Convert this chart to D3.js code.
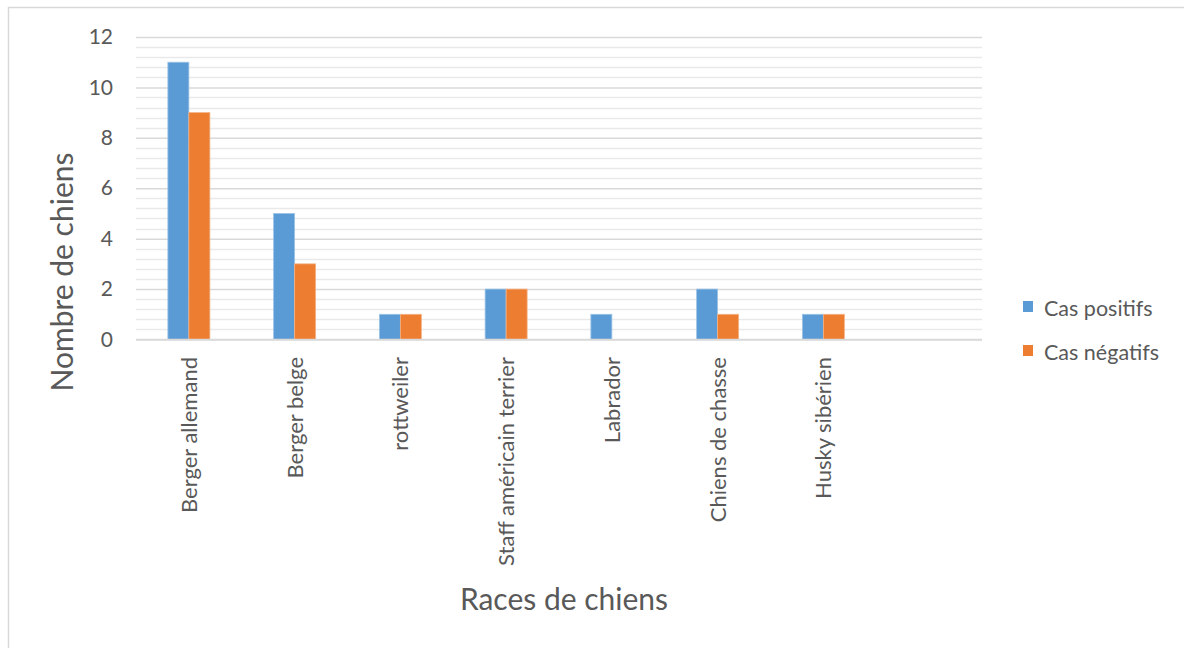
<!DOCTYPE html>
<html>
<head>
<meta charset="utf-8">
<script src="https://cdn.jsdelivr.net/npm/d3@7"></script>
<style>
  html, body { margin: 0; padding: 0; background: #fff; }
  svg { display: block; }
  text { font-family: Lato, "Open Sans", sans-serif; fill: #595959; }
</style>
</head>
<body>
<svg id="chart" width="1184" height="648"></svg>
<script>
// Races de chiens et nombre de cas
const categories = ["Berger allemand", "Berger belge", "rottweiler", "Staff américain terrier", "Labrador", "Chiens de chasse", "Husky sibérien", ""];
const positifs = [11, 5, 1, 2, 1, 2, 1, null];
const negatifs = [9, 3, 1, 2, 0, 1, 1, null];
const seriesNames = ["Cas positifs", "Cas négatifs"];
const seriesColors = ["#5B9BD5", "#ED7D31"];
const yTicks = [0, 2, 4, 6, 8, 10, 12];

const svg = d3.select("#chart");
const W = 1184, H = 648;

// outer chart frame
svg.append("rect")
  .attr("x", 8.5).attr("y", 7.5)
  .attr("width", W).attr("height", H)
  .attr("fill", "#fff").attr("stroke", "#d9d9d9").attr("stroke-width", 1.5);

const plot = { left: 136, right: 982, top: 37, bottom: 339.5 };

const x = d3.scaleBand()
  .domain(categories.map((c, i) => i))
  .range([plot.left, plot.right])
  .paddingInner(0).paddingOuter(0);

const y = d3.scaleLinear().domain([0, 12]).range([plot.bottom, plot.top]);

const groupW = 42;
const xs = d3.scaleBand().domain([0, 1]).range([0, groupW]);

// minor gridlines every 0.4
const minor = d3.range(0, 12.0001, 0.4).filter(v => Math.abs(v / 2 - Math.round(v / 2)) > 1e-6);
svg.append("g").selectAll("line").data(minor).join("line")
  .attr("x1", plot.left).attr("x2", plot.right)
  .attr("y1", d => Math.round(y(d)) + 0.5).attr("y2", d => Math.round(y(d)) + 0.5)
  .attr("stroke", "#e9e9e9").attr("stroke-width", 1.5);

// major gridlines via axis
const yAxis = d3.axisLeft(y).tickValues(yTicks).tickSize(-(plot.right - plot.left)).tickPadding(23);
const gy = svg.append("g").attr("transform", `translate(${plot.left},0)`).call(yAxis);
gy.select(".domain").remove();
gy.selectAll(".tick line").attr("stroke", "#d9d9d9").attr("stroke-width", 1.5);
gy.selectAll(".tick text")
  .style("font-size", "21px").attr("fill", "#595959")
  .style("font-family", "Lato, sans-serif");

// bars
const data = categories.map((c, i) => ({ i, vals: [positifs[i], negatifs[i]] }));
const groups = svg.append("g").selectAll("g").data(data).join("g")
  .attr("transform", d => `translate(${x(d.i) + x.bandwidth() / 2 - groupW / 2},0)`);
groups.selectAll("rect")
  .data(d => d.vals.map((v, k) => ({ v, k })).filter(e => e.v))
  .join("rect")
  .attr("x", e => xs(e.k))
  .attr("width", xs.bandwidth())
  .attr("y", e => y(e.v))
  .attr("height", e => y(0) - y(e.v))
  .attr("fill", e => seriesColors[e.k])
  .attr("stroke", e => e.k === 0 ? "#9cc3e6" : "#f4b183")
  .attr("stroke-width", 0.8);

// category axis line
svg.append("line")
  .attr("x1", plot.left).attr("x2", plot.right)
  .attr("y1", plot.bottom).attr("y2", plot.bottom)
  .attr("stroke", "#d9d9d9").attr("stroke-width", 1.5);

// category labels (rotated)
svg.append("g").selectAll("text").data(data.filter(d => categories[d.i])).join("text")
  .attr("transform", d => `translate(${x(d.i) + x.bandwidth() / 2 + 8},357) rotate(-90)`)
  .attr("text-anchor", "end")
  .style("font-size", "22px")
  .text(d => categories[d.i]);

// axis titles
svg.append("text")
  .attr("transform", "translate(73,272) rotate(-90)")
  .attr("text-anchor", "middle")
  .style("font-size", "30px")
  .text("Nombre de chiens");

svg.append("text")
  .attr("x", 564).attr("y", 610)
  .attr("text-anchor", "middle")
  .style("font-size", "30px")
  .text("Races de chiens");

// legend
const legend = svg.append("g").selectAll("g").data(seriesNames).join("g")
  .attr("transform", (d, k) => `translate(1023,${301 + k * 44})`);
legend.append("rect").attr("width", 10).attr("height", 11)
  .attr("fill", (d, k) => seriesColors[k]);
legend.append("text").attr("x", 21).attr("y", 15)
  .style("font-size", "21.5px")
  .text(d => d);
</script>
</body>
</html>
